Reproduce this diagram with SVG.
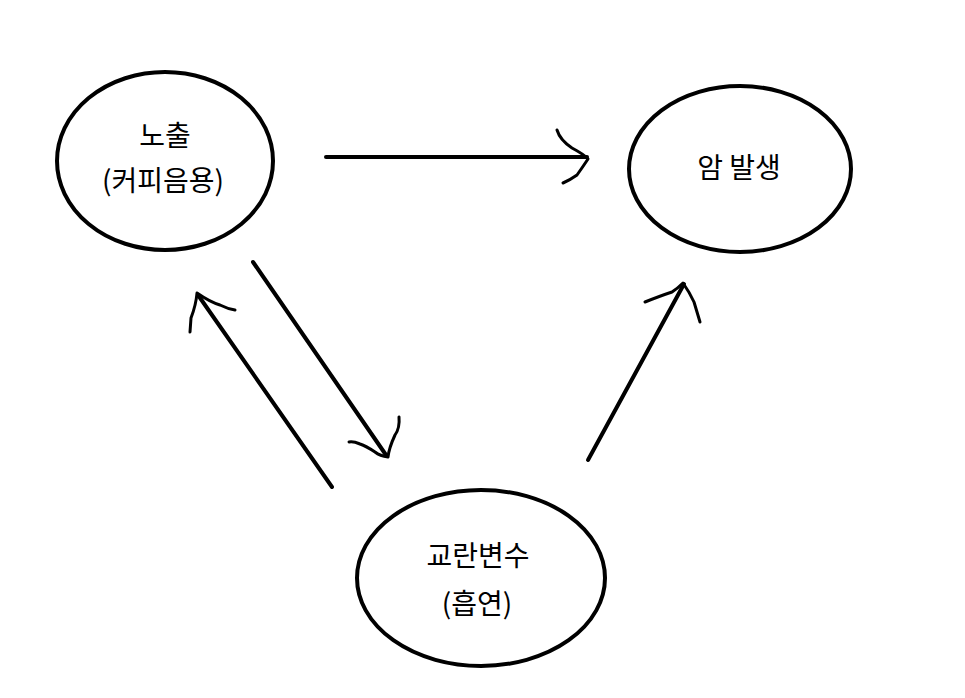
<svg xmlns="http://www.w3.org/2000/svg" width="965" height="698" viewBox="0 0 965 698">
<style>
.node{fill:none;stroke:#000;stroke-width:4}
.lbl{font-family:"Noto Sans CJK KR","Noto Sans",sans-serif;font-size:28px;fill:#000;text-anchor:middle}
.c{fill:none;stroke:#000;stroke-width:4;stroke-linecap:round;stroke-linejoin:round}
.h{fill:none;stroke:#000;stroke-width:3;stroke-linecap:round;stroke-linejoin:round}
</style>
<rect width="965" height="698" fill="#fff"/>
<g id="exposure">
<ellipse class="node" cx="165" cy="161" rx="108" ry="89"/>
<text class="lbl" x="165" y="146">노출</text>
<text class="lbl" x="163" y="191">(커피음용)</text>
</g>
<g id="cancer">
<ellipse class="node" cx="740" cy="169" rx="111" ry="83"/>
<text class="lbl" x="739" y="178">암 발생</text>
</g>
<g id="confounder">
<ellipse class="node" cx="481" cy="578" rx="124" ry="88"/>
<text class="lbl" x="478" y="566">교란변수</text>
<text class="lbl" x="477" y="614">(흡연)</text>
</g>
<g id="connectors">
<path class="c" d="M326 157 L587 157"/>
<path class="h" d="M557 130 Q560 140 572 148 Q585 155 588 159 Q582 168 577 175 Q570 180 563 183"/>
<path class="c" d="M253 262 L386 455"/>
<path class="h" d="M399 417 Q400 428 395 435 Q389 448 388 457 Q380 456 375 452 Q366 446 360 444 Q353 441 349 442"/>
<path class="c" d="M332 487 L198 295"/>
<path class="h" d="M190 332 L191 318 Q196 305 197 293 Q210 302 220 305 Q228 309 235 310"/>
<path class="c" d="M588 460 L684 284"/>
<path class="h" d="M645 302 Q660 296 672 292 Q678 288 683 283 Q690 293 694 302 Q697 312 700 322"/>
</g>
</svg>
